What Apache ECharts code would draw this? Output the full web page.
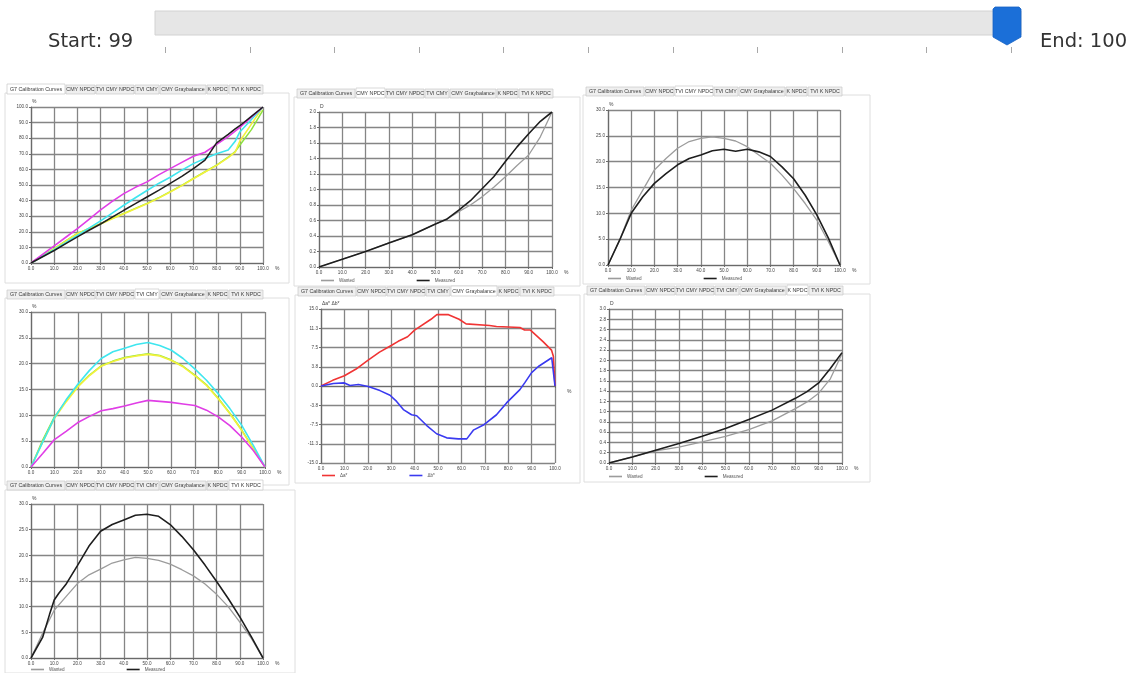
<!DOCTYPE html>
<html><head><meta charset="utf-8">
<script src="https://cdn.jsdelivr.net/npm/echarts@6/dist/echarts.min.js"></script>
<style>html,body{margin:0;padding:0;background:#fff}#c{width:1133px;height:673px}</style>
</head><body><div id="c"></div>
<script>
// ---------------- data ----------------
const sliderStart = 99;
const sliderEnd = 100;
const sliderTickCount = 11;
const tabNames = ['G7 Calibration Curves','CMY NPDC','TVI CMY NPDC','TVI CMY','CMY Graybalance','K NPDC','TVI K NPDC'];

const x21 = [0,5,10,15,20,25,30,35,40,45,50,55,60,65,70,75,80,85,90,95,100];

// Panel 1: G7 Calibration Curves
const p1X       = [0,5,10,15,20,25,30,35,40,45,50,55,60,65,70,75,80,85,88,90,95,100];
const p1Green   = [0,4.7,9.2,14.2,19,22.2,25.2,28.6,31.8,35,38.2,41.8,45.7,49.8,54.2,58.5,62.8,67.8,71.5,75.5,85.5,98];
const p1Yellow  = [0,4.6,9,14,18.8,22,25,28.4,31.6,34.8,38,41.6,45.5,49.6,54,58.3,62.6,67.5,71,78,89,100];
const p1Cyan    = [0,4.3,8.5,13,17.7,22.4,27,32,37,41.8,46.5,51,55,59.5,63.7,67,70,72.5,78,84,92,100];
const p1Magenta = [0,5.5,11,16.5,22,28,34,39.5,44.5,48.5,52,56.5,60.5,64.5,68.4,71,76,81,84.5,87,93.5,100];
const p1Black   = [0,4,8,12.4,16.7,21,25,29.4,33.8,38,42.3,46.6,51,55.5,60.5,66,77,82.5,86,88,94,100];

// Panel 2: CMY NPDC
const p2X        = [0,10,20,30,40,50,55,60,65,70,75,80,85,90,95,100];
const p2Wanted   = [0,0.10,0.20,0.31,0.415,0.555,0.62,0.715,0.80,0.905,1.03,1.165,1.31,1.445,1.68,2.0];
const p2Measured = [0,0.10,0.20,0.31,0.415,0.555,0.62,0.735,0.855,1.01,1.165,1.36,1.55,1.72,1.88,2.0];

// Panel 3: TVI CMY NPDC
const p3Wanted   = [0,4.8,10.6,14.5,18.4,20.6,22.6,23.9,24.5,24.8,24.5,24,22.9,21.3,19.7,17.4,14.8,11.9,8.7,4.5,0];
const p3Measured = [0,4.8,10,13.2,15.8,17.7,19.4,20.6,21.3,22.1,22.4,22.0,22.4,21.9,21,19,16.7,13.5,9.7,5.2,0];

// Panel 4: TVI CMY
const p4Green   = [0,5.2,9.7,12.8,15.6,17.8,19.6,20.5,21.2,21.6,21.9,21.6,20.7,19.5,17.8,15.9,13.3,10.4,7.2,3.6,0];
const p4Yellow  = [0,4.8,9.4,12.6,15.5,17.7,19.5,20.4,21.1,21.5,21.8,21.5,20.6,19.4,17.7,15.8,13.2,10.3,7.1,3.5,0];
const p4Cyan    = [0,4.8,9.5,13,16,18.7,21,22.3,23,23.7,24.1,23.5,22.6,21,19,16.8,14.2,11.3,8.1,4.2,0];
const p4Magenta = [0,2.6,5.3,6.9,8.6,9.8,10.9,11.3,11.8,12.4,12.9,12.7,12.5,12.2,11.9,11,9.7,8.0,5.8,3.2,0];

// Panel 5: CMY Graybalance
const p5AX = [0,5,10,15,20,25,30,33,37,40,47,49.5,54.5,59,62,72,75,85,87,89.5,95,98.5,99.3,100];
const p5A  = [0,1.1,2.0,3.3,5.0,6.6,7.9,8.7,9.6,10.9,13.0,13.9,13.9,13.0,12.1,11.8,11.6,11.4,10.9,10.9,8.6,7.0,5.8,0];
const p5BX = [0,5.3,10,12.4,16,20.2,25.2,29.5,32.3,35.2,38.7,40.9,45.2,49.4,53.7,58.7,62.3,65.1,69.4,75,79.3,85,87.2,90,92.9,98.6,100];
const p5B  = [0,0.5,0.6,0.1,0.3,-0.1,-0.9,-1.8,-3.0,-4.6,-5.6,-5.8,-7.7,-9.3,-10.1,-10.3,-10.3,-8.6,-7.6,-5.6,-3.3,-0.7,0.7,2.6,3.8,5.5,0];

// Panel 6: K NPDC
const p6X        = [0,10,20,30,40,50,60,70,80,85,90,95,100];
const p6Wanted   = [0,0.117,0.235,0.31,0.41,0.52,0.65,0.82,1.06,1.19,1.36,1.64,2.13];
const p6Measured = [0,0.117,0.25,0.38,0.52,0.67,0.846,1.03,1.26,1.39,1.56,1.84,2.15];

// Panel 7: TVI K NPDC
const p7MX       = [0,5,8,10,12,15,20,25,30,35,40,45,50,55,60,65,70,75,80,85,90,95,100];
const p7Measured = [0,4.0,8.5,11.3,12.6,14.3,18.0,21.8,24.7,26,26.9,27.8,28,27.6,26,23.7,21.1,18.1,14.9,11.6,8,4.1,0];
const p7Wanted   = [0,4.8,9.3,11.9,14.5,16.2,17.3,18.5,19.1,19.6,19.4,19.0,18.3,17.2,16,14.4,12.4,10,7,3.8,0];

// ---------------- styling / layout ----------------
const C = {magenta:'#e03ee6', cyan:'#3fe6ef', yellow:'#f2f23c', green:'#8de23e', black:'#1e1e1e',
           gray:'#9c9c9c', red:'#f03434', blue:'#3a3af0'};
const zip = (xs, ys) => xs.map((x, i) => [x, ys[i]]);

const panels = [
  {tab:0, tabPos:[7,85],   frame:[5,93,284,190],   rect:[31,107,232,156], y:[0,100,10], yName:'%',
   series:[['Green',p1X,p1Green,C.green,1.5],['Yellow',p1X,p1Yellow,C.yellow,1.6],['Cyan',p1X,p1Cyan,C.cyan,1.6],
           ['Magenta',p1X,p1Magenta,C.magenta,1.6],['Black',p1X,p1Black,C.black,1.5]]},
  {tab:1, tabPos:[297,89], frame:[294,97,286,189], rect:[319,112,233,155], y:[0,2,0.2], yName:'D',
   series:[['Wanted',p2X,p2Wanted,C.gray,1.3],['Measured',p2X,p2Measured,C.black,1.6]],
   legend:{left:321, top:278, names:['Wanted','Measured']}},
  {tab:2, tabPos:[586,87], frame:[583,95,287,189], rect:[608,110,232,155], y:[0,30,5], yName:'%',
   series:[['Wanted',x21,p3Wanted,C.gray,1.3],['Measured',x21,p3Measured,C.black,1.6]],
   legend:{left:608, top:276, names:['Wanted','Measured']}},
  {tab:3, tabPos:[7,290],  frame:[5,298,284,187],  rect:[31,312,234,155], y:[0,30,5], yName:'%',
   series:[['Green ',x21,p4Green,C.green,1.5],['Yellow ',x21,p4Yellow,C.yellow,1.6],['Cyan ',x21,p4Cyan,C.cyan,1.6],
           ['Magenta ',x21,p4Magenta,C.magenta,1.6]]},
  {tab:4, tabPos:[298,287],frame:[295,295,285,188],rect:[321,309,234,154], y:[-15,15,3.75], yName:'Δa* Δb*',
   series:[['Δa*',p5AX,p5A,C.red,1.6],['Δb*',p5BX,p5B,C.blue,1.6]],
   legend:{left:322, top:473, names:['Δa*','Δb*']}},
  {tab:5, tabPos:[587,286],frame:[584,294,286,188],rect:[609,309,233,154], y:[0,3,0.2], yName:'D',
   series:[['Wanted',p6X,p6Wanted,C.gray,1.3],['Measured',p6X,p6Measured,C.black,1.6]],
   legend:{left:609, top:474, names:['Wanted','Measured']}},
  {tab:6, tabPos:[7,481],  frame:[5,490,290,183],  rect:[31,504,232,154], y:[0,30,5], yName:'%',
   series:[['Wanted',x21,p7Wanted,C.gray,1.3],['Measured',p7MX,p7Measured,C.black,1.6]],
   legend:{left:31, top:667, names:['Wanted','Measured']}}
];

const tabW = [58,29,38,24,46,21,34];
const tinyFont = 'Liberation Sans';

function tabEls(x0, y0, active, frame) {
  const els = [];
  els.push({type:'rect', silent:true, shape:{x:frame[0], y:frame[1], width:frame[2], height:frame[3]},
            style:{fill:'none', stroke:'#dedede', lineWidth:1}});
  let x = x0;
  tabNames.forEach((t, i) => {
    const w = tabW[i], act = i === active;
    els.push({type:'rect', silent:true, shape:{x:x, y:act ? y0 - 1 : y0, width:w, height:act ? 10 : 9},
              style:{fill:act ? '#ffffff' : '#efefef', stroke:'#c9c9c9', lineWidth:0.7}});
    els.push({type:'text', silent:true, x:x + w / 2, y:y0 + 4.6,
              style:{text:t, fontSize:5.3, fontFamily:tinyFont, fill:'#3a3a3a',
                     align:'center', verticalAlign:'middle', textAlign:'center', textVerticalAlign:'middle'}});
    x += w + 1;
  });
  return els;
}

const graphic = [];
// slider
graphic.push({type:'rect', silent:true, shape:{x:155, y:11, width:866, height:24},
              style:{fill:'#e6e6e6', stroke:'#d2d2d2', lineWidth:1}});
for (let i = 0; i < sliderTickCount; i++) {
  const tx = Math.round(165 + 84.6 * i) + 0.5;
  graphic.push({type:'line', silent:true, shape:{x1:tx, y1:47, x2:tx, y2:53}, style:{stroke:'#a8a8a8', lineWidth:1}});
}
graphic.push({type:'polygon', silent:true,
              shape:{points:[[993,9],[995,7],[1019,7],[1021,9],[1021,37],[1007,45],[993,37]]},
              style:{fill:'#1b6fd8', stroke:'#1762c4', lineWidth:0.8}});
graphic.push({type:'text', silent:true, x:48, y:42,
              style:{text:'Start: ' + sliderStart, fontSize:19.5, fontFamily:'DejaVu Sans', fill:'#333',
                     verticalAlign:'middle', textVerticalAlign:'middle'}});
graphic.push({type:'text', silent:true, x:1040, y:42,
              style:{text:'End: ' + sliderEnd, fontSize:19.5, fontFamily:'DejaVu Sans', fill:'#333',
                     verticalAlign:'middle', textVerticalAlign:'middle'}});
panels.forEach(p => graphic.push(...tabEls(p.tabPos[0], p.tabPos[1], p.tab, p.frame)));

const gridLine = {color:'#858585', width:1.3};
const grid = [], xAxis = [], yAxis = [], series = [], legend = [];
panels.forEach((p, i) => {
  grid.push({left:p.rect[0], top:p.rect[1], width:p.rect[2], height:p.rect[3], containLabel:false, outerBoundsMode:'none'});
  xAxis.push({gridIndex:i, type:'value', min:0, max:100, interval:10,
    name:'%', nameLocation:'end', nameGap:12,
    nameTextStyle:{fontSize:5, fontFamily:tinyFont, color:'#444', verticalAlign:'top', padding:[3,0,0,0]},
    axisLine:{show:true, lineStyle:{color:'#6a6a6a', width:1.2}},
    axisTick:{show:true, length:2, lineStyle:{color:'#6a6a6a'}},
    splitLine:{show:true, lineStyle:gridLine},
    axisLabel:{fontSize:4.6, fontFamily:tinyFont, color:'#444', margin:3, showMinLabel:true, showMaxLabel:true,
               hideOverlap:false, formatter:v => v.toFixed(1)}});
  yAxis.push({gridIndex:i, type:'value', min:p.y[0], max:p.y[1], interval:p.y[2],
    name:p.yName, nameLocation:'end', nameGap:3,
    nameTextStyle:{fontSize:5, fontFamily:tinyFont, color:'#444', align:'left', verticalAlign:'bottom', padding:[0,0,0,1]},
    axisLine:{show:true, lineStyle:{color:'#6a6a6a', width:1.2}},
    axisTick:{show:true, length:2, lineStyle:{color:'#6a6a6a'}},
    splitLine:{show:true, lineStyle:gridLine},
    axisLabel:{fontSize:4.6, fontFamily:tinyFont, color:'#444', margin:3, showMinLabel:true, showMaxLabel:true,
               hideOverlap:false, formatter:v => (Math.round(v * 100) / 100).toFixed(1)}});
  p.series.forEach(s => {
    series.push({type:'line', name:s[0], xAxisIndex:i, yAxisIndex:i, data:zip(s[1], s[2]),
      symbol:'none', showSymbol:false, silent:true, animation:false,
      lineStyle:{color:s[3], width:s[4]}, itemStyle:{color:s[3]}});
  });
  if (p.legend) {
    legend.push({left:p.legend.left, top:p.legend.top, data:p.legend.names, selectedMode:false,
      icon:'rect', itemWidth:13, itemHeight:1.6, itemGap:62, padding:0,
      textStyle:{fontSize:4.6, fontFamily:tinyFont, color:'#555', padding:[0,0,0,0]}});
  }
});

const chart = echarts.init(document.getElementById('c'), null, {renderer:'canvas'});
chart.setOption({backgroundColor:'#ffffff', animation:false, grid, xAxis, yAxis, series, legend, graphic});
</script></body></html>
